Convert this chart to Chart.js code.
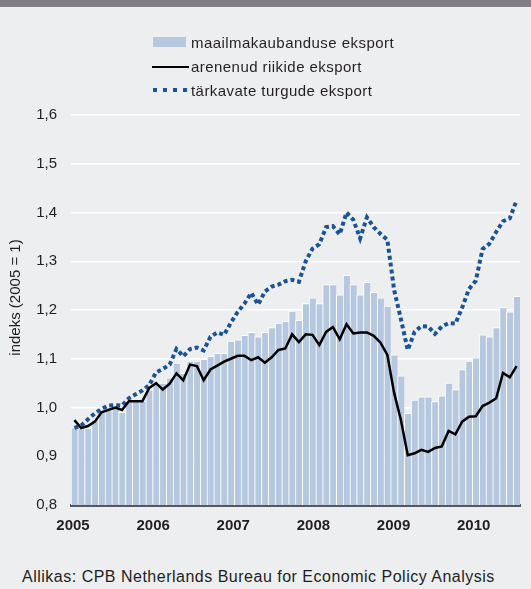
<!DOCTYPE html>
<html>
<head>
<meta charset="utf-8">
<script src="https://cdn.jsdelivr.net/npm/chart.js@4.4.1/dist/chart.umd.min.js"></script>
<style>
  html, body { margin: 0; padding: 0; width: 531px; height: 589px; overflow: hidden; background: #edeef0; }
  body { position: relative; font-family: "Liberation Sans", Arial, sans-serif; color: #231f20; }
  #topbar { position: absolute; left: 0; top: 0; width: 531px; height: 7px; background: #807e83; }
  #chartwrap { position: absolute; left: 0; top: 0; width: 531px; height: 545px; }
  .lg-text { position: absolute; left: 191px; font-size: 15px; line-height: 18px; letter-spacing: 0.45px; white-space: nowrap; }
  .sw { position: absolute; }
  #source { position: absolute; left: 22px; top: 568px; font-size: 16px; line-height: 17px; letter-spacing: 0.5px; white-space: nowrap; }
</style>
</head>
<body>
<div id="topbar"></div>
<div id="chartwrap"><canvas id="c" width="531" height="545"></canvas></div>
<div id="legend"></div>
<div id="source"></div>
<script>
// ---- data ----
const months = [
  '2005-01','2005-02','2005-03','2005-04','2005-05','2005-06','2005-07','2005-08','2005-09','2005-10','2005-11','2005-12',
  '2006-01','2006-02','2006-03','2006-04','2006-05','2006-06','2006-07','2006-08','2006-09','2006-10','2006-11','2006-12',
  '2007-01','2007-02','2007-03','2007-04','2007-05','2007-06','2007-07','2007-08','2007-09','2007-10','2007-11','2007-12',
  '2008-01','2008-02','2008-03','2008-04','2008-05','2008-06','2008-07','2008-08','2008-09','2008-10','2008-11','2008-12',
  '2009-01','2009-02','2009-03','2009-04','2009-05','2009-06','2009-07','2009-08','2009-09','2009-10','2009-11','2009-12',
  '2010-01','2010-02','2010-03','2010-04','2010-05','2010-06'
];
const yearTicks = [2005, 2006, 2007, 2008, 2009, 2010];
const seriesNames = ['maailmakaubanduse eksport', 'arenenud riikide eksport', 'tärkavate turgude eksport'];
const worldTrade = [
  0.959, 0.957, 0.958, 0.975, 0.990, 1.000, 1.000, 0.990, 1.013, 1.013, 1.013, 1.036,
  1.050, 1.050, 1.061, 1.091, 1.070, 1.095, 1.095, 1.099, 1.105, 1.111, 1.111, 1.136,
  1.139, 1.148, 1.154, 1.145, 1.154, 1.164, 1.173, 1.177, 1.198, 1.179, 1.213, 1.225,
  1.213, 1.252, 1.252, 1.231, 1.271, 1.252, 1.231, 1.257, 1.236, 1.225, 1.208, 1.108,
  1.065, 0.988, 1.015, 1.022, 1.022, 1.012, 1.024, 1.050, 1.037, 1.078, 1.095, 1.102,
  1.149, 1.145, 1.164, 1.205, 1.196, 1.228
];
const advanced = [
  0.974, 0.958, 0.962, 0.971, 0.990, 0.995, 1.000, 0.995, 1.013, 1.013, 1.013, 1.040,
  1.050, 1.037, 1.049, 1.070, 1.056, 1.088, 1.085, 1.056, 1.078, 1.086, 1.094, 1.100,
  1.106, 1.106, 1.097, 1.103, 1.092, 1.103, 1.118, 1.121, 1.150, 1.134, 1.150, 1.149,
  1.128, 1.155, 1.165, 1.140, 1.171, 1.152, 1.154, 1.154, 1.147, 1.133, 1.108, 1.030,
  0.974, 0.902, 0.906, 0.913, 0.909, 0.917, 0.920, 0.952, 0.945, 0.971, 0.981, 0.982,
  1.003, 1.010, 1.019, 1.071, 1.062, 1.085
];
const emerging = [
  0.958, 0.963, 0.976, 0.988, 0.997, 1.004, 1.005, 1.004, 1.019, 1.027, 1.035, 1.046,
  1.072, 1.079, 1.088, 1.120, 1.105, 1.120, 1.123, 1.117, 1.145, 1.154, 1.149, 1.174,
  1.196, 1.213, 1.235, 1.211, 1.238, 1.248, 1.252, 1.259, 1.262, 1.258, 1.300, 1.326,
  1.335, 1.370, 1.372, 1.355, 1.400, 1.385, 1.347, 1.390, 1.370, 1.356, 1.344, 1.241,
  1.181, 1.118, 1.155, 1.167, 1.166, 1.151, 1.166, 1.173, 1.172, 1.205, 1.243, 1.260,
  1.325, 1.336, 1.360, 1.382, 1.388, 1.425
];
const yAxisTitle = 'indeks (2005 = 1)';
const sourceText = 'Allikas: CPB Netherlands Bureau for Economic Policy Analysis';

// ---- styles ----
const FONT = '"Liberation Sans", Arial, sans-serif';
const BAR_COLOR = '#b5c8df';
const DEV_COLOR = '#000000';
const EM_COLOR = '#1b5496';
const TEXT_COLOR = '#231f20';

// ---- HTML legend / texts ----
(function buildLegend() {
  const lg = document.getElementById('legend');
  const rows = [
    { top: 34.1, sw: '<div class="sw" style="left:153px;top:37px;width:33px;height:10px;background:' + BAR_COLOR + ';"></div>' },
    { top: 58.3, sw: '<div class="sw" style="left:152px;top:65.5px;width:37px;height:2.5px;background:' + DEV_COLOR + ';"></div>' },
    { top: 82.3, sw: '<div class="sw" style="left:153px;top:88px;width:34px;height:4px;background:repeating-linear-gradient(90deg,' + EM_COLOR + ' 0 4px, transparent 4px 10px);"></div>' }
  ];
  let html = '';
  rows.forEach((r, i) => {
    html += r.sw + '<div class="lg-text" style="top:' + r.top + 'px">' + seriesNames[i] + '</div>';
  });
  lg.innerHTML = html;
  document.getElementById('source').textContent = sourceText;
})();

// y-axis title drawn on the canvas, slightly above the axis middle as in the original
const yTitlePlugin = {
  id: 'yTitle',
  afterDraw(chart) {
    const ctx = chart.ctx;
    ctx.save();
    ctx.translate(16, 297.5);
    ctx.rotate(-Math.PI / 2);
    ctx.textAlign = 'center';
    ctx.textBaseline = 'middle';
    ctx.fillStyle = TEXT_COLOR;
    ctx.font = '15px ' + FONT;
    ctx.fillText(yAxisTitle, 0, 0);
    ctx.restore();
  }
};

// ---- chart ----
new Chart(document.getElementById('c'), {
  data: {
    labels: months,
    datasets: [
      {
        type: 'bar', label: seriesNames[0], data: worldTrade,
        backgroundColor: BAR_COLOR, borderColor: '#ffffff',
        borderWidth: { top: 1, left: 1, right: 0, bottom: 0 },
        categoryPercentage: 1.0, barPercentage: 1.0,
        xAxisID: 'x', yAxisID: 'y', order: 3
      },
      {
        type: 'line', label: seriesNames[1], data: advanced,
        borderColor: DEV_COLOR, borderWidth: 2.5, pointRadius: 0, tension: 0, fill: false,
        xAxisID: 'x', yAxisID: 'y', order: 1
      },
      {
        type: 'line', label: seriesNames[2], data: emerging,
        borderColor: EM_COLOR, borderWidth: 4, borderDash: [4, 3], borderCapStyle: 'butt',
        pointRadius: 0, tension: 0, fill: false,
        xAxisID: 'x', yAxisID: 'y', order: 2
      }
    ]
  },
  plugins: [yTitlePlugin],
  options: {
    responsive: false,
    devicePixelRatio: 1,
    animation: false,
    layout: { padding: { left: 0, right: 11, top: 115, bottom: 0 } },
    plugins: { legend: { display: false }, tooltip: { enabled: false } },
    scales: {
      x: {
        type: 'category', display: false, offset: true,
        grid: { display: false }
      },
      xYears: {
        type: 'linear', position: 'bottom',
        min: 2004.975, max: 2010.578,
        afterBuildTicks: (s) => { s.ticks = yearTicks.map(v => ({ value: v })); },
        afterFit: (s) => { s.height = 40; },
        grid: { display: false, drawTicks: false },
        border: { display: true, color: '#58595b', width: 3 },
        ticks: {
          autoSkip: false, maxRotation: 0, padding: 12,
          color: TEXT_COLOR,
          font: { family: FONT, size: 15, weight: 'bold' },
          callback: (v) => String(v)
        }
      },
      y: {
        min: 0.8, max: 1.6,
        afterFit: (s) => { s.width = 71; },
        grid: { color: '#ffffff', lineWidth: 1.5, drawTicks: false },
        border: { display: false },
        ticks: {
          stepSize: 0.1, padding: 14, color: TEXT_COLOR,
          font: { family: FONT, size: 15 },
          callback: (v) => Number(v).toFixed(1).replace('.', ',')
        }
      }
    }
  }
});
</script>
</body>
</html>
